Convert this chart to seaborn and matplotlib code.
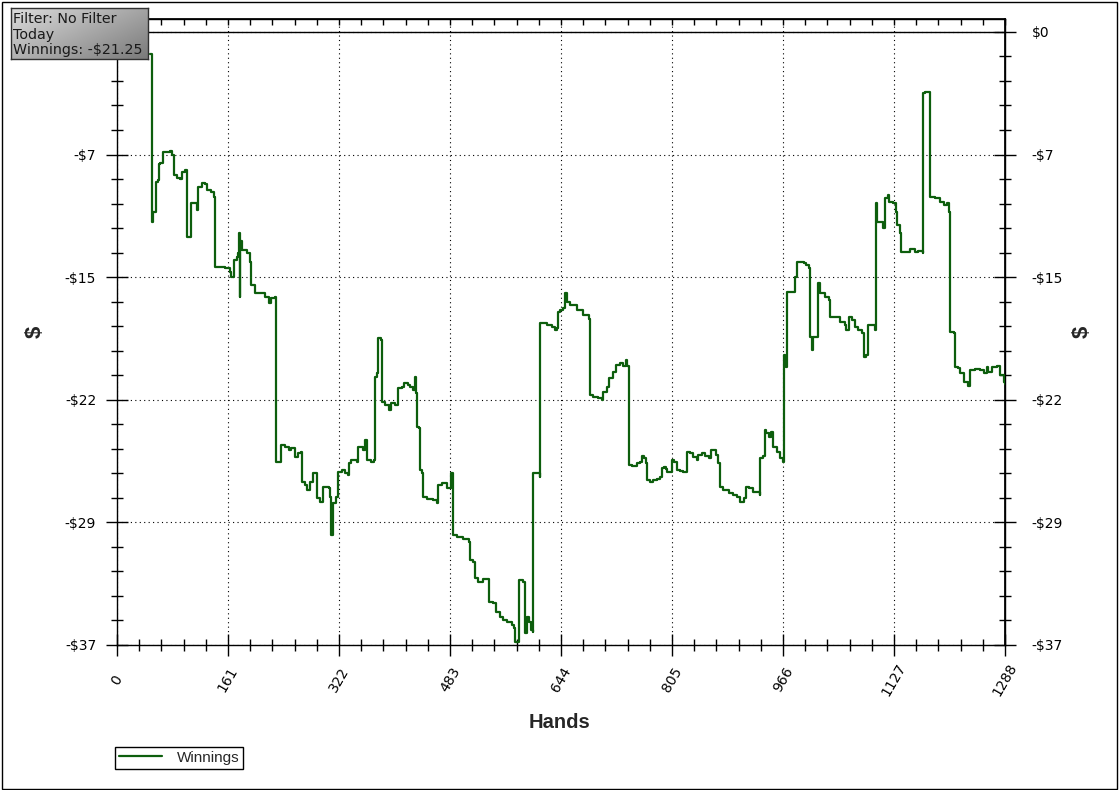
import numpy as np
import pandas as pd
import seaborn as sns
import matplotlib.pyplot as plt
from matplotlib.patches import Rectangle

# winnings curve (hand number, dollars)
hands = [48, 51, 51, 52, 55, 56, 59, 61, 62, 66,
         72, 77, 80, 82, 87, 91, 94, 98, 101, 101,
         107, 107, 111, 116, 118, 123, 128, 130, 136, 140,
         142, 149, 157, 164, 166, 169, 174, 176, 177, 178,
         179, 181, 188, 193, 195, 200, 207, 215, 220, 223,
         229, 231, 236, 238, 244, 249, 253, 258, 263, 267,
         269, 273, 276, 280, 285, 288, 290, 294, 298, 299,
         307, 309, 310, 313, 314, 317, 320, 321, 326, 331,
         335, 337, 340, 348, 349, 355, 357, 360, 363, 369,
         373, 374, 377, 378, 383, 384, 389, 395, 398, 403,
         407, 413, 417, 422, 425, 430, 432, 433, 435, 438,
         440, 443, 444, 449, 459, 464, 466, 471, 478, 482,
         484, 486, 488, 493, 502, 510, 512, 517, 519, 524,
         531, 539, 540, 546, 550, 556, 560, 565, 573, 576,
         577, 581, 583, 587, 589, 592, 594, 597, 601, 603,
         604, 609, 613, 614, 618, 623, 631, 635, 638, 639,
         643, 647, 650, 652, 657, 667, 676, 685, 686, 691,
         698, 703, 705, 710, 714, 720, 724, 730, 734, 738,
         740, 742, 747, 754, 758, 761, 764, 767, 769, 773,
         778, 783, 787, 790, 793, 796, 798, 802, 805, 808,
         812, 817, 821, 825, 827, 831, 836, 841, 843, 848,
         853, 858, 862, 866, 869, 872, 874, 879, 887, 894,
         899, 904, 909, 912, 916, 923, 932, 933, 937, 940,
         942, 945, 948, 952, 957, 962, 966, 967, 969, 970,
         972, 981, 984, 986, 991, 996, 1000, 1004, 1005, 1008,
         1010, 1016, 1017, 1020, 1027, 1033, 1034, 1044, 1049, 1056,
         1058, 1062, 1066, 1071, 1075, 1080, 1083, 1087, 1089, 1095,
         1100, 1101, 1103, 1107, 1111, 1114, 1119, 1120, 1126, 1130,
         1132, 1136, 1137, 1143, 1150, 1158, 1162, 1169, 1169, 1172,
         1179, 1179, 1187, 1194, 1199, 1204, 1207, 1208, 1214, 1216,
         1220, 1223, 1228, 1235, 1237, 1245, 1252, 1257, 1262, 1264,
         1269, 1276, 1281, 1286, 1288]
winnings = [-1.33, -1.45, -11.45, -10.85, -10.85, -9.03, -8.93, -8.00, -7.91, -7.22,
            -7.22, -7.16, -7.42, -8.63, -8.83, -8.87, -8.43, -8.33, -8.53, -12.35,
            -12.35, -10.34, -10.34, -10.74, -9.34, -9.13, -9.17, -9.54, -9.64, -9.94,
            -14.16, -14.16, -14.26, -14.47, -14.77, -13.76, -13.56, -13.36, -12.15, -15.97,
            -12.60, -13.16, -13.36, -13.86, -15.27, -15.77, -15.77, -15.97, -16.37, -16.07,
            -15.97, -25.93, -25.93, -24.92, -25.03, -25.23, -25.12, -25.63, -25.43, -25.33,
            -27.14, -27.34, -27.64, -27.14, -26.63, -26.63, -28.14, -28.35, -28.35, -27.44,
            -27.54, -28.04, -30.36, -30.36, -28.44, -28.04, -27.64, -26.54, -26.43, -26.63,
            -26.74, -26.03, -25.83, -25.93, -25.03, -25.03, -25.23, -24.62, -25.83, -25.93,
            -25.83, -20.80, -20.60, -18.49, -18.59, -22.31, -22.51, -22.81, -22.41, -22.51,
            -21.50, -21.41, -21.20, -21.30, -21.41, -21.61, -20.80, -21.80, -23.82, -23.92,
            -26.43, -26.63, -28.04, -28.20, -28.24, -28.41, -27.34, -27.24, -27.54, -27.54,
            -26.60, -26.63, -30.36, -30.46, -30.62, -30.76, -31.86, -31.97, -32.97, -33.17,
            -33.03, -33.17, -34.38, -34.44, -34.98, -35.29, -35.49, -35.59, -35.79, -35.99,
            -36.80, -36.80, -33.07, -33.07, -33.17, -36.29, -35.29, -35.59, -36.09, -36.19,
            -26.63, -26.63, -26.84, -17.58, -17.54, -17.68, -17.79, -17.98, -17.88, -16.88,
            -16.78, -16.68, -15.77, -16.28, -16.48, -16.78, -17.08, -17.32, -21.91, -22.01,
            -22.11, -22.21, -21.71, -21.41, -20.90, -20.50, -20.10, -19.99, -20.16, -19.79,
            -20.16, -26.13, -26.19, -26.03, -25.93, -25.59, -25.73, -26.03, -27.04, -27.14,
            -27.04, -26.99, -26.84, -26.33, -26.23, -26.39, -26.54, -26.54, -25.83, -25.93,
            -26.43, -26.48, -26.54, -26.54, -25.33, -25.43, -25.63, -25.83, -25.53, -25.43,
            -25.59, -25.73, -25.23, -25.23, -25.53, -26.03, -27.44, -27.64, -27.84, -27.94,
            -28.08, -28.35, -28.14, -27.44, -27.54, -27.74, -27.94, -25.73, -25.59, -24.02,
            -24.22, -24.42, -24.12, -25.03, -25.33, -25.73, -25.93, -19.49, -19.79, -20.20,
            -15.67, -15.67, -14.77, -13.86, -13.86, -13.96, -14.06, -14.26, -18.39, -19.19,
            -18.39, -18.39, -15.17, -15.77, -15.97, -16.17, -17.18, -17.22, -17.48, -17.68,
            -17.98, -17.18, -17.38, -17.79, -17.98, -18.18, -19.60, -19.49, -17.68, -17.68,
            -17.98, -10.34, -11.45, -11.45, -11.85, -10.04, -9.84, -10.24, -10.34, -10.85,
            -11.65, -12.15, -13.26, -13.26, -13.11, -13.26, -13.20, -13.32, -3.70, -3.60,
            -3.80, -9.94, -10.04, -10.24, -10.44, -10.34, -10.85, -18.09, -18.18, -20.20,
            -20.30, -20.60, -21.10, -21.36, -20.40, -20.36, -20.40, -20.60, -20.20, -20.50,
            -20.20, -20.16, -20.70, -21.10, -21.25]

x_ticks = [0, 161, 322, 483, 644, 805, 966, 1127, 1288]
y_ticks = [0, -7.4, -14.8, -22.2, -29.6, -37]
y_labels = ['$0', '-$7', '-$15', '-$22', '-$29', '-$37']
info_lines = ['Filter: No Filter', 'Today', 'Winnings: -$21.25']

sns.set_theme(style='white')
plt.rcParams['font.family'] = ['DejaVu Sans']

df = pd.DataFrame({'Hands': hands, 'Winnings': winnings})

W, H = 1120, 790
fig = plt.figure(figsize=(W / 100, H / 100), dpi=100)
ax = fig.add_axes([117 / W, 1 - 645 / H, 888 / W, 626 / H])

ax.axhline(0, color='black', lw=1, zorder=1.5)
sns.lineplot(data=df, x='Hands', y='Winnings', sort=False, estimator=None,
             color='#0d5e0d', lw=1.6, label='Winnings', ax=ax, zorder=3,
             drawstyle='steps-post')

ax.set_xlim(0, 1288)
ax.set_ylim(-37, 0.78)
ax.set_xlabel('')
ax.set_ylabel('')

x_minor = np.linspace(0, 1288, 41)
y_minor = np.linspace(-37, 0, 26)
ax.set_xticks(x_ticks)
ax.set_xticks(x_minor, minor=True)
ax.set_xticklabels([str(t) for t in x_ticks], rotation=60, ha='center',
                   va='center', rotation_mode='anchor')
ax.set_yticks(y_ticks)
ax.set_yticks(y_minor, minor=True)
ax.set_yticklabels(y_labels)

ax.tick_params(which='both', bottom=True, left=True, top=False, right=False,
               direction='inout', color='black', width=1, labelcolor='black')
ax.tick_params(which='major', length=16, labelsize=10)
ax.tick_params(which='minor', length=8.5)
ax.tick_params(axis='x', which='major', pad=17, labelsize=10)
ax.tick_params(axis='y', which='major', pad=7)

ax.grid(True, which='major', color='black', linestyle=(0, (1, 3)), linewidth=0.8)
ax.grid(False, which='minor')
for sp in ax.spines.values():
    sp.set_color('black')
    sp.set_linewidth(1)

# right hand scale
sec = ax.secondary_yaxis('right')
sec.set_yticks(y_ticks)
sec.set_yticklabels(y_labels)
sec.set_yticks(y_minor, minor=True)
sec.tick_params(which='both', right=True, direction='inout', color='black', width=1,
                labelcolor='black')
sec.tick_params(which='major', length=16, labelsize=10, pad=11)
sec.tick_params(which='minor', length=8.5)
sec.spines['right'].set_color('black')

# top edge ticks
topx = ax.secondary_xaxis('top')
topx.set_xticks(x_minor)
topx.set_xticklabels([])
topx.tick_params(which='both', top=True, direction='in', length=4, width=1, color='black')
topx.spines['top'].set_color('black')

fig.text(560 / W, 1 - 723 / H, 'Hands', fontsize=14.5, fontweight='bold',
         family=['Liberation Sans', 'DejaVu Sans'], ha='center', va='center')
for xpos in (35, 1082):
    fig.text(xpos / W, 1 - 332 / H, '$', rotation=90, fontsize=16, fontweight='bold',
             family=['Liberation Sans', 'DejaVu Sans'], ha='center', va='center')

leg = ax.legend(loc='upper left', bbox_to_anchor=(115 / W, 1 - 747 / H),
                bbox_transform=fig.transFigure, frameon=True, fancybox=False,
                edgecolor='black', framealpha=1, borderaxespad=0, borderpad=0.25,
                handlelength=2.8, handletextpad=1.0,
                prop={'family': 'Liberation Sans', 'size': 11})
leg.get_frame().set_linewidth(1)

# filter info box with grey gradient
ib = fig.add_axes([11 / W, 1 - 59 / H, 137 / W, 51 / H])
rows, cols = 50, 140
grad = 0.86 - 0.16 * np.linspace(0, 1, rows)[:, None] - 0.22 * np.linspace(0, 1, cols)[None, :]
ib.imshow(grad, cmap='gray', vmin=0, vmax=1, aspect='auto', extent=[0, 1, 0, 1])
ib.set_xlim(0, 1)
ib.set_ylim(0, 1)
ib.set_xticks([])
ib.set_yticks([])
for sp in ib.spines.values():
    sp.set_color('#303030')
    sp.set_linewidth(1)
for i, line in enumerate(info_lines):
    ib.text(0.015, 0.79 - i * 0.31, line, fontsize=10.3, color='#1a1a1a',
            ha='left', va='center', transform=ib.transAxes)

fig.patches.append(Rectangle((1.5 / W, 1.5 / H), 1115 / W, 787 / H,
                             transform=fig.transFigure, fill=False,
                             edgecolor='black', lw=1))

fig.savefig('out.png', dpi=100)
